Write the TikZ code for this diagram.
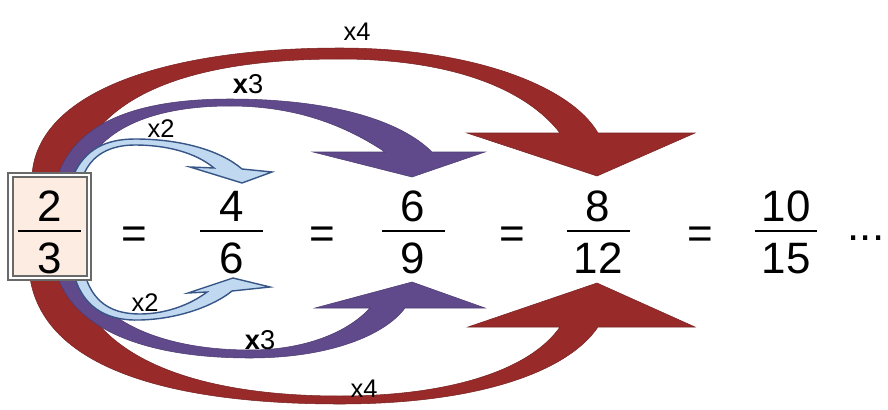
\documentclass[tikz,border=0pt]{standalone}
\usepackage{fontspec}
\setmainfont{Liberation Sans}
\definecolor{arrred}{RGB}{152,42,42}
\definecolor{arrpurple}{RGB}{96,74,140}
\definecolor{arrblue}{RGB}{192,216,240}
\definecolor{arrblueline}{RGB}{55,85,135}
\definecolor{boxfill}{RGB}{252,236,226}
\definecolor{boxline}{RGB}{105,105,105}
\begin{document}
\begin{tikzpicture}[x=0.02cm,y=-0.02cm,
  digit/.style={inner sep=0pt,anchor=base,font=\fontsize{25}{30}\selectfont},
  lbl/.style={inner sep=0pt,anchor=center,font=\fontsize{14.5}{17}\selectfont},
  lblb/.style={inner sep=0pt,anchor=center,font=\fontsize{15.5}{18}\selectfont},
  fracline/.style={line width=1.6pt,black},
  redarrow/.style={fill=arrred,draw=arrred!80!black,line width=0.3pt},
  purplearrow/.style={fill=arrpurple,draw=arrpurple!80!black,line width=0.3pt},
  bluearrow/.style={fill=arrblue,draw=arrblueline,line width=0.8pt}]
\useasboundingbox (0,0) rectangle (888,409);

% ---- top arrows ----
\path[redarrow] (32,175) .. controls (38,90) and (170,48) .. (340,48)
  .. controls (470,48) and (570,85) .. (598,133)
  -- (695,133) -- (597,176) -- (467,133) -- (560,133)
  .. controls (525,88) and (450,59) .. (340,59)
  .. controls (190,59) and (95,95) .. (74,175) -- cycle;
\path[purplearrow] (58,175) .. controls (80,112) and (160,99) .. (230,99)
  .. controls (330,99) and (400,120) .. (432,152)
  -- (485,152) -- (412,177) -- (313,152) -- (385,152)
  .. controls (340,122) and (290,106) .. (230,106)
  .. controls (160,106) and (100,125) .. (82,175) -- cycle;
\path[bluearrow] (74,174) .. controls (85,150) and (105,139) .. (135,139)
  .. controls (180,139) and (220,150) .. (242,169)
  -- (272,172) -- (242,183) -- (190,167) -- (214,168)
  .. controls (195,152) and (165,145) .. (135,145)
  .. controls (110,145) and (92,155) .. (84,174) -- cycle;

% ---- bottom arrows ----
\path[redarrow] (30,278) .. controls (45,372) and (180,404) .. (340,404)
  .. controls (470,404) and (565,375) .. (598,327)
  -- (695,327) -- (597,283) -- (468,327) -- (560,327)
  .. controls (530,370) and (450,396) .. (340,396)
  .. controls (200,396) and (95,360) .. (74,278) -- cycle;
\path[purplearrow] (58,278) .. controls (78,332) and (150,358) .. (250,358)
  .. controls (330,358) and (385,335) .. (405,308)
  -- (485,308) -- (412,282) -- (315,308) -- (370,308)
  .. controls (345,335) and (300,350) .. (250,350)
  .. controls (160,350) and (100,320) .. (84,278) -- cycle;
\path[bluearrow] (75,278) .. controls (85,310) and (110,321) .. (140,320)
  .. controls (180,319) and (215,305) .. (232,291)
  -- (270,287) -- (233,278) -- (188,293) -- (207,292)
  .. controls (190,305) and (165,314) .. (140,314)
  .. controls (115,314) and (95,305) .. (86,278) -- cycle;

% ---- box ----
\draw[boxline,line width=1.2pt,fill=white] (8,173) rectangle (91,280);
\draw[boxline,line width=1pt,fill=boxfill] (13,177) rectangle (87,276);

% ---- fractions ----
\node[digit] (n1) at (50,221) {2};
\node[digit] (d1) at (50,273) {3};
\draw[fracline] (18,231) -- (81,231);
\node[digit] (e1) at (134,248) {=};
\node[digit] (n2) at (232,221) {4};
\node[digit] (d2) at (232,273) {6};
\draw[fracline] (200,231) -- (263,231);
\node[digit] (e2) at (322,248) {=};
\node[digit] (n3) at (413,221) {6};
\node[digit] (d3) at (413,273) {9};
\draw[fracline] (382,231) -- (445,231);
\node[digit] (e3) at (512,248) {=};
\node[digit] (n4) at (598,221) {8};
\node[digit] (d4) at (598,273) {12};
\draw[fracline] (567,231) -- (630,231);
\node[digit] (e4) at (700,248) {=};
\node[digit] (n5) at (786,221) {10};
\node[digit] (d5) at (786,273) {15};
\draw[fracline] (755,231) -- (817,231);
\node[digit] (dots) at (866,240) {...};

% ---- labels ----
\node[lbl] (t4) at (357,32) {x4};
\node[lblb] (t3) at (248,84) {\textbf{x}3};
\node[lbl] (t2) at (161,129) {x2};
\node[lbl] (b2) at (145,303) {x2};
\node[lblb] (b3) at (260,340) {\textbf{x}3};
\node[lbl] (b4) at (364,389) {x4};
\end{tikzpicture}
\end{document}
